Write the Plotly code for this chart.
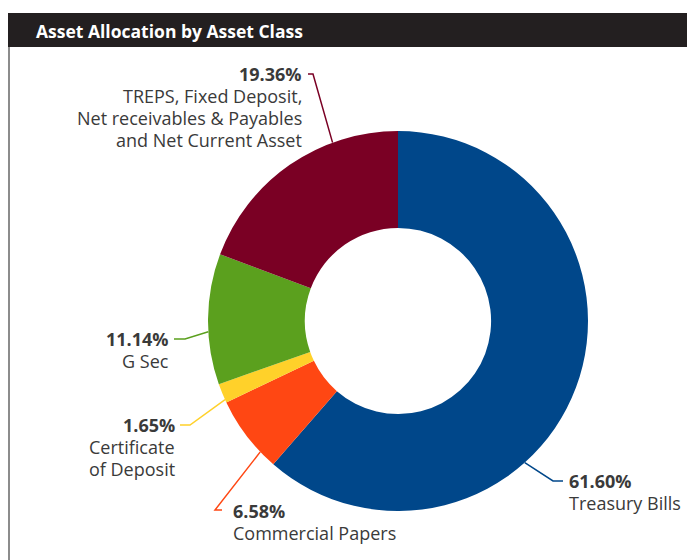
import math
import plotly.graph_objects as go

PAGE_W, PAGE_H = 695, 560
OFF = 8  # page body margin
W, H = PAGE_W - OFF, PAGE_H - OFF

categories = ["Treasury Bills", "Commercial Papers", "Certificate of Deposit",
              "G Sec", "TREPS, Fixed Deposit, Net receivables & Payables and Net Current Asset"]
values = [61.60, 6.58, 1.65, 11.14, 19.36]
pct_labels = ["61.60%", "6.58%", "1.65%", "11.14%", "19.36%"]
name_lines = [["Treasury Bills"], ["Commercial Papers"], ["Certificate", "of Deposit"],
              ["G Sec"], ["TREPS, Fixed Deposit,", "Net receivables & Payables", "and Net Current Asset"]]
colors = ["#00478A", "#FF4713", "#FFD12A", "#5BA01E", "#7A0024"]

# layout (page pixels)
CX, CY, R = 398, 321, 190
HOLE = 0.49
leader_pos = [0.625, 0.23, 0.15, 0.405, 0.71]
elbows = [(553, 481), (215, 510), (190, 425), (185, 339), (313, 74)]
ends = [(563, 481), (222, 510), (180, 425), (174, 339), (308, 74)]
text_pos = [(567, 481, "left"), (231, 511, "left"), (177, 425, "right"),
            (171, 339, "right"), (304, 74, "right")]
LINE_H = 22

def px(x):
    return (x - OFF) / W

def py(y):
    return 1 - (y - OFF) / H

FONT = "Open Sans"
TXT = "#3a3a3a"

fig = go.Figure(go.Pie(
    labels=categories, values=values, sort=False, direction="clockwise", rotation=0,
    hole=HOLE, marker=dict(colors=colors, line=dict(width=0)),
    textinfo="none", hoverinfo="label+percent", showlegend=False,
    domain=dict(x=[px(CX - R), px(CX + R)], y=[py(CY + R), py(CY - R)]),
))

shapes = []
annotations = []

shapes.append(dict(type="rect", xref="paper", yref="paper", x0=px(8), x1=px(PAGE_W), y0=py(47), y1=py(13),
                   fillcolor="#231F20", line=dict(width=0), layer="below"))
shapes.append(dict(type="line", xref="paper", yref="paper", x0=px(9), x1=px(9), y0=py(47), y1=py(PAGE_H),
                   line=dict(color="#8C8C8C", width=2)))
annotations.append(dict(text="<b>Asset Allocation by Asset Class</b>", xref="paper", yref="paper",
                        x=px(34), y=py(31), xanchor="left", yanchor="middle", showarrow=False,
                        font=dict(family="Open Sans", size=17.5, color="white")))

total = sum(values)
cum = 0.0
for i, v in enumerate(values):
    frac = (cum + v * leader_pos[i]) / total
    cum += v
    ang = 2 * math.pi * frac
    sx = CX + R * math.sin(ang)
    sy = CY - R * math.cos(ang)
    ex, ey = elbows[i]
    hx, hy = ends[i]
    path = f"M {px(sx)},{py(sy)} L {px(ex)},{py(ey)} L {px(hx)},{py(hy)}"
    shapes.append(dict(type="path", xref="paper", yref="paper", path=path,
                       line=dict(color=colors[i], width=1.5)))
    tx, ty, side = text_pos[i]
    lines = ["<b>" + pct_labels[i] + "</b>"] + name_lines[i]
    for k, t in enumerate(lines):
        annotations.append(dict(text=t, xref="paper", yref="paper", x=px(tx), y=py(ty + k * LINE_H),
                                xanchor=side, yanchor="middle", align=side, showarrow=False,
                                font=dict(family=FONT, size=18, color=TXT)))

fig.update_layout(width=W, height=H, margin=dict(l=0, r=0, t=0, b=0),
                  paper_bgcolor="white", plot_bgcolor="white",
                  shapes=shapes, annotations=annotations)

fig.write_html("out.html")
